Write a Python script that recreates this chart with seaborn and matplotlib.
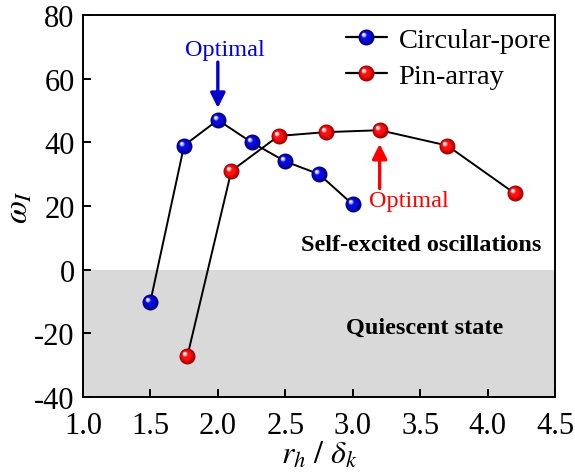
import numpy as np
import pandas as pd
import matplotlib
matplotlib.use("Agg")
import matplotlib.pyplot as plt
from matplotlib.path import Path
from matplotlib.lines import Line2D
from matplotlib.legend_handler import HandlerTuple
import seaborn as sns

# ---- data ----
circ_x = [1.5, 1.75, 2.0, 2.25, 2.5, 2.75, 3.0]
circ_y = [-10.0, 39.0, 47.0, 40.0, 34.0, 30.0, 20.5]
pin_x = [1.775, 2.1, 2.45, 2.8, 3.2, 3.7, 4.2]
pin_y = [-27.0, 31.0, 42.0, 43.2, 43.8, 39.0, 24.0]
x_ticks = [1.0, 1.5, 2.0, 2.5, 3.0, 3.5, 4.0, 4.5]
y_ticks = [-40, -20, 0, 20, 40, 60, 80]
series_names = ["Circular-pore", "Pin-array"]

sns.set_theme(style="ticks")
plt.rcParams["font.family"] = ["Liberation Serif", "DejaVu Serif"]
plt.rcParams["mathtext.fontset"] = "stix"
plt.rcParams["axes.unicode_minus"] = False
plt.rcParams["text.color"] = "black"
plt.rcParams["axes.labelcolor"] = "black"

fig = plt.figure(figsize=(5.75, 4.77), dpi=100)
ax = fig.add_axes([0.1443, 0.1656, 0.8209, 0.8009])

ax.set_xlim(1.0, 4.5)
ax.set_ylim(-40, 80)

# quiescent region below zero
ax.axhspan(-40, 0, color="#d9d9d9", zorder=0, lw=0)

# ---- glossy sphere markers built from stacked offset discs ----
BASE_MS = 11.5


def disc(cx, cy, r):
    return Path.circle(center=(cx, cy), radius=r)


def sphere_layers(dark, body, light):
    dark = np.array(matplotlib.colors.to_rgb(dark))
    body = np.array(matplotlib.colors.to_rgb(body))
    light = np.array(matplotlib.colors.to_rgb(light))
    layers = []
    n = 7
    for i in range(n):
        t = i / (n - 1)
        r = 1.0 - 0.45 * t
        off = 0.12 * t
        c = dark + (body - dark) * t
        layers.append((disc(-off, off, r), off + r, c))
    for r, off, mix in [(0.32, 0.30, 0.45), (0.22, 0.33, 0.75), (0.12, 0.35, 1.0)]:
        c = body + (light - body) * mix
        layers.append((disc(-off, off, r), off + r, c))
    return layers


blue_layers = sphere_layers("#00007a", "#0a0ae6", "#ffffff")
red_layers = sphere_layers("#a00000", "#ff1010", "#ffffff")

df_c = pd.DataFrame({"x": circ_x, "y": circ_y})
df_p = pd.DataFrame({"x": pin_x, "y": pin_y})

for df, layers in [(df_c, blue_layers), (df_p, red_layers)]:
    sns.lineplot(data=df, x="x", y="y", sort=False, color="black", lw=1.4,
                 ax=ax, zorder=3, legend=False)
    for k, (path, ext, col) in enumerate(layers):
        sns.scatterplot(data=df, x="x", y="y", marker=path, s=(BASE_MS * ext) ** 2,
                        color=col, linewidth=0, ax=ax, zorder=4 + k * 0.01,
                        legend=False)

# ---- legend with the same sphere glyphs ----
def legend_handle(layers):
    hs = [Line2D([], [], color="black", lw=1.6, marker=None)]
    for path, ext, col in layers:
        hs.append(Line2D([], [], ls="none", marker=path, markersize=BASE_MS * ext,
                         markerfacecolor=col, markeredgewidth=0))
    return tuple(hs)


handles = [legend_handle(blue_layers), legend_handle(red_layers)]
ax.legend(handles, series_names, handler_map={tuple: HandlerTuple(ndivide=1, pad=0)},
          loc="upper right", bbox_to_anchor=(1.034, 1.02), frameon=False, fontsize=20.5,
          handlelength=1.45, handletextpad=0.4, labelspacing=0.35, borderaxespad=0.3)

# ---- annotations ----
ax.annotate("", xy=(2.0, 50.8), xytext=(2.0, 65.2),
            arrowprops=dict(arrowstyle="-|>", color="#0000cc", lw=2.4, mutation_scale=22,
                            shrinkA=0, shrinkB=0))
ax.text(2.05, 66.0, "Optimal", color="#0000dd", fontsize=17.5, ha="center", va="bottom")

ax.annotate("", xy=(3.2, 39.5), xytext=(3.2, 25.5),
            arrowprops=dict(arrowstyle="-|>", color="red", lw=2.4, mutation_scale=22,
                            shrinkA=0, shrinkB=0))
ax.text(3.42, 21.8, "Optimal", color="red", fontsize=17.5, ha="center", va="center")

ax.text(3.505, 8.0, "Self-excited oscillations", fontsize=17.5, fontweight="bold",
        ha="center", va="center", color="black")
ax.text(3.535, -18.0, "Quiescent state", fontsize=17.5, fontweight="bold",
        ha="center", va="center", color="black")

# ---- axes styling ----
ax.set_xticks(x_ticks)
ax.set_xticklabels([f"{v:.1f}" for v in x_ticks])
ax.set_yticks(y_ticks)
ax.set_yticklabels([str(v) for v in y_ticks])
ax.tick_params(direction="in", length=6, width=1.4, labelsize=22, colors="black")
ax.tick_params(axis="x", pad=10)
ax.tick_params(axis="y", pad=6)
for sp in ax.spines.values():
    sp.set_linewidth(1.4)
    sp.set_color("black")
    sp.set_zorder(10)

ax.set_xlabel(r"$r_h\ /\ \delta_k$", fontsize=23, labelpad=0)
ax.set_ylabel(r"$\omega_I$", fontsize=24, labelpad=0)

fig.savefig("out.png", dpi=100)
